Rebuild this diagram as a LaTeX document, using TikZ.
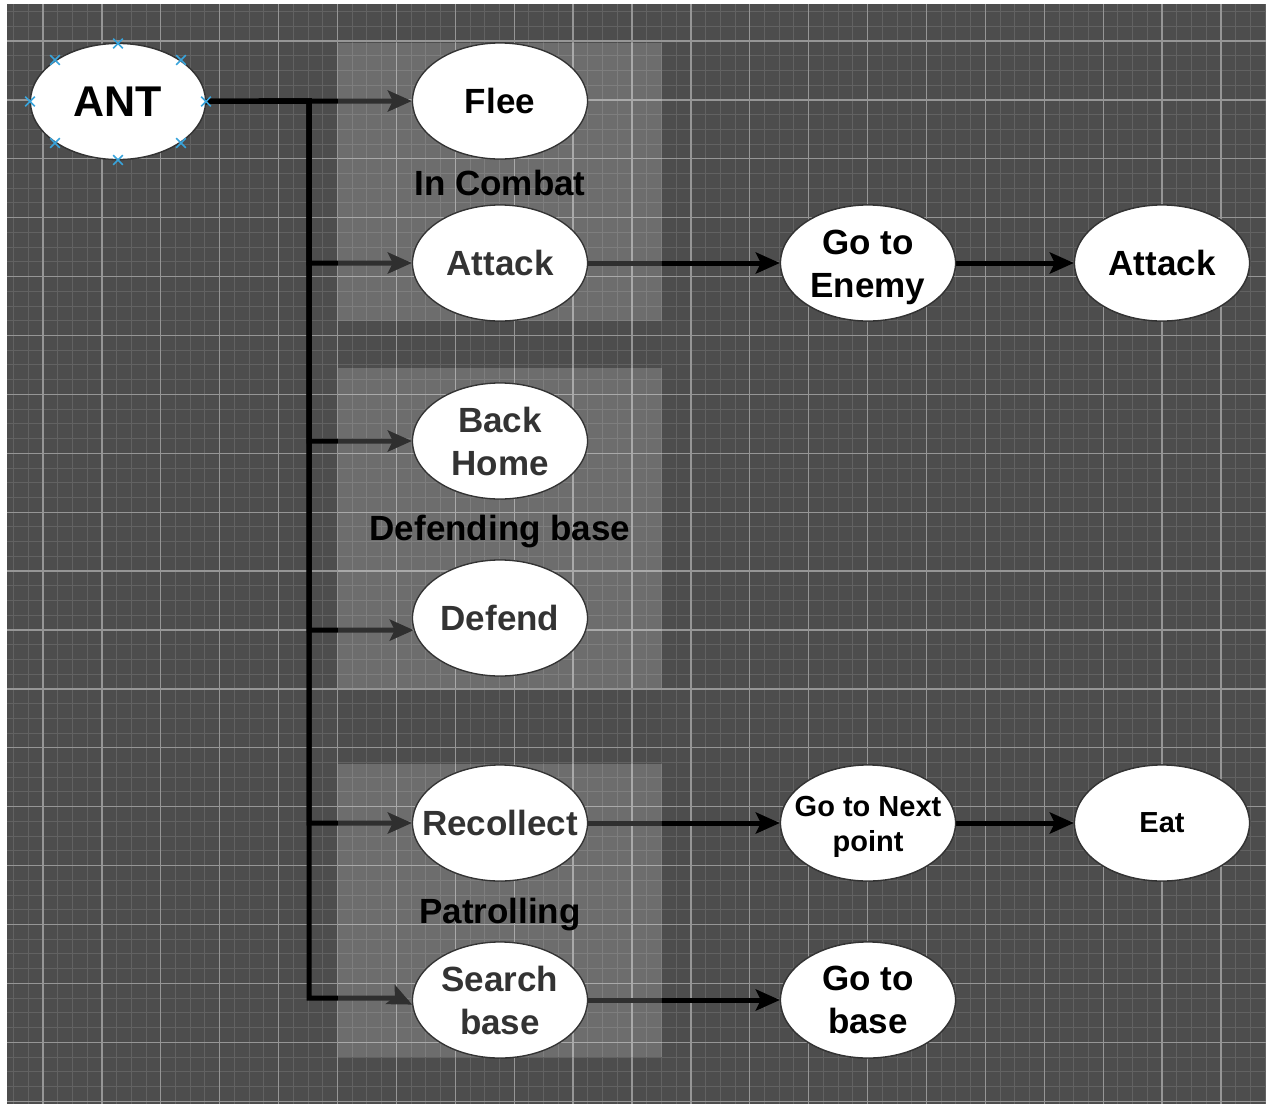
\documentclass[tikz,border=0pt]{standalone}
\usepackage{fontspec}
\setmainfont{Liberation Sans}
\usetikzlibrary{shapes.geometric,shapes.misc,arrows.meta,calc}

\definecolor{canvasbg}{HTML}{4D4D4D}
\definecolor{gridminor}{HTML}{626262}
\definecolor{gridmajor}{HTML}{969696}
\definecolor{nodeline}{HTML}{333333}
\definecolor{softtext}{HTML}{333333}
\definecolor{handleblue}{HTML}{38A4DC}

\begin{document}
\begin{tikzpicture}[x=1pt,y=-1pt,
  state/.style={ellipse,draw=nodeline,line width=1.3pt,fill=white,
    minimum width=175pt,minimum height=116pt,inner sep=0pt},
  txt/.style={align=center,inner sep=0pt,text=black,
    font=\bfseries\fontsize{35}{43}\selectfont},
  smalltxt/.style={txt,font=\bfseries\fontsize{29}{35}\selectfont},
  grouplabel/.style={txt,text=black},
  groupbox/.style={fill=white,fill opacity=0.185,draw=none},
  edge/.style={line width=5pt,line join=miter,
    -{Stealth[length=24pt,width=21pt,inset=5pt]}},
  handlemark/.style={cross out,draw=handleblue,line width=1.6pt,
    minimum size=8pt,inner sep=0pt},
]
\useasboundingbox (0,0) rectangle (1270,1104);
\fill[white] (0,0) rectangle (1270,1104);

% dark canvas with its grid
\fill[canvasbg] (7,4) rectangle (1266,1104);
\begin{scope}
  \clip (7,4) rectangle (1266,1104);
  \foreach \i in {0,...,85} {
    \pgfmathsetmacro\gx{13.55+14.725*\i}
    \draw[gridminor,line width=1pt] (\gx,4) -- (\gx,1104);
  }
  \foreach \i in {0,...,74} {
    \pgfmathsetmacro\gy{11.55+14.725*\i}
    \draw[gridminor,line width=1pt] (7,\gy) -- (1266,\gy);
  }
  \foreach \i in {0,...,20} {
    \pgfmathsetmacro\gx{43+58.9*\i}
    \draw[gridmajor,line width=1.3pt] (\gx,4) -- (\gx,1104);
  }
  \foreach \i in {0,...,18} {
    \pgfmathsetmacro\gy{41+58.9*\i}
    \draw[gridmajor,line width=1.3pt] (7,\gy) -- (1266,\gy);
  }
\end{scope}

% states (shapes first, so the connectors can refer to them)
\node[state] (ant) at (118,101.5) {};
\node[state] (flee) at (500,101) {};
\node[state] (attack) at (500,263) {};
\node[state] (backhome) at (500,441) {};
\node[state] (defend) at (500,618) {};
\node[state] (recollect) at (500,823) {};
\node[state] (search) at (500,1000) {};
\node[state] (goenemy) at (868,263) {};
\node[state] (attackfar) at (1162,263) {};
\node[state] (gonext) at (868,823) {};
\node[state] (eat) at (1162,823) {};
\node[state] (gobase) at (868,1000) {};

% connectors from ANT along the common trunk
\coordinate (trunk) at (309,101);
\coordinate (sbend) at (398,998);
\draw[edge] (ant.east) -- (trunk) -- (flee.west);
\draw[edge] (ant.east) -- (trunk) |- (attack.west);
\draw[edge] (ant.east) -- (trunk) |- (backhome.west);
\draw[edge] (ant.east) -- (trunk) |- (defend.188);
\draw[edge] (ant.east) -- (trunk) |- (recollect.west);
\draw[edge] (ant.east) -- (trunk) |- (sbend) -- (search.183);

% follow-up actions
\draw[edge] (attack.east) -- (goenemy.west);
\draw[edge] (goenemy.east) -- (attackfar.west);
\draw[edge] (recollect.east) -- (gonext.west);
\draw[edge] (gonext.east) -- (eat.west);
\draw[edge] (search.east) -- (gobase.west);

% translucent group panels
\fill[groupbox] (338,43) rectangle (662,321);
\fill[groupbox] (338,368) rectangle (662,688);
\fill[groupbox] (338,764) rectangle (662,1057);

% states redrawn above the panels, with their texts
\foreach \n in {ant,flee,attack,backhome,defend,recollect,search,
                goenemy,attackfar,gonext,eat,gobase}
  \node[state] (\n-top) at (\n.center) {};

\node[txt,font=\bfseries\fontsize{43}{50}\selectfont] (ant-t) at (ant.center) {ANT};
\node[txt] (flee-t) at (flee.center) {Flee};
\node[txt,text=softtext] (attack-t) at (attack.center) {Attack};
\node[txt,text=softtext] (backhome-t) at (backhome.center) {Back\\Home};
\node[txt,text=softtext] (defend-t) at (defend.center) {Defend};
\node[txt,text=softtext] (recollect-t) at (recollect.center) {Recollect};
\node[txt,text=softtext] (search-t) at (search.center) {Search\\base};
\node[txt] (goenemy-t) at ($(goenemy.center)+(0,4)$) {Go to\\Enemy};
\node[txt] (attackfar-t) at (attackfar.center) {Attack};
\node[smalltxt] (gonext-t) at ($(gonext.center)+(0,4)$) {Go to Next\\point};
\node[smalltxt] (eat-t) at (eat.center) {Eat};
\node[txt] (gobase-t) at (gobase.center) {Go to\\base};

% group titles
\node[grouplabel] (combat-t) at (500,183) {In Combat};
\node[grouplabel] (defbase-t) at (500,532) {Defending base};
\node[grouplabel] (patrol-t) at (500,915) {Patrolling};

% selection handles around ANT
\foreach \dx/\dy [count=\k] in {0/-58, 63/-41.5, 88/0, 63/41.5, 0/58.5, -63/41.5, -88/0, -63/-41.5}
  \node[handlemark] (handle\k) at ($(ant.center)+(\dx,\dy)$) {};
\end{tikzpicture}
\end{document}
